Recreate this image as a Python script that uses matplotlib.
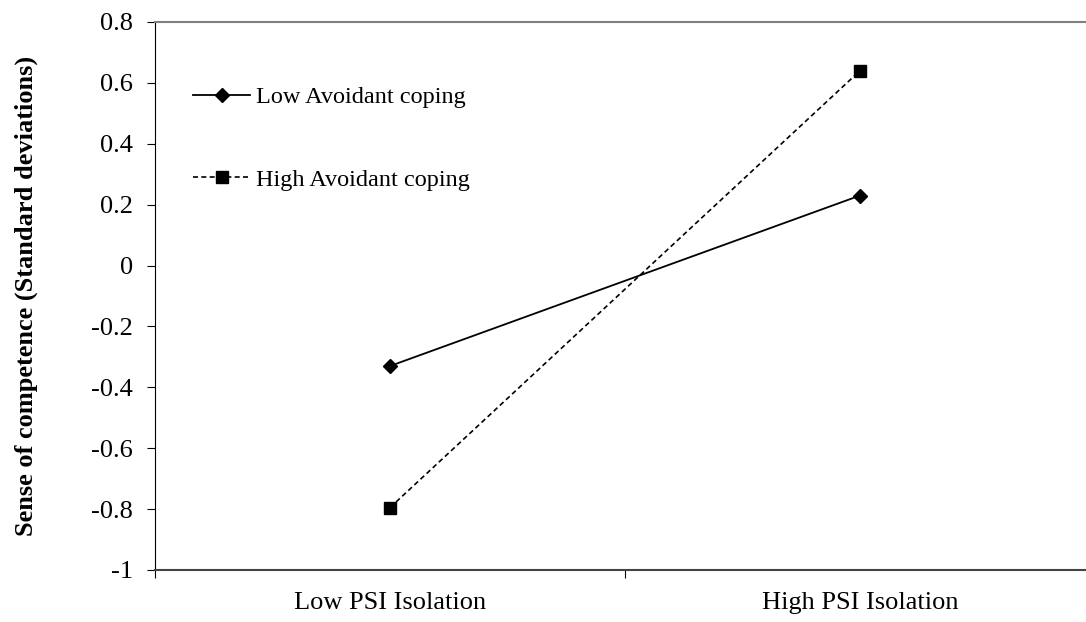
import numpy as np
import matplotlib.pyplot as plt

plt.rcParams['font.family'] = ['Liberation Serif', 'DejaVu Serif']

categories = ['Low PSI Isolation', 'High PSI Isolation']
low_avoidant = [-0.33, 0.23]
high_avoidant = [-0.795, 0.64]
yticks = [-1, -0.8, -0.6, -0.4, -0.2, 0, 0.2, 0.4, 0.6, 0.8]
ytick_labels = ['-1', '-0.8', '-0.6', '-0.4', '-0.2', '0', '0.2', '0.4', '0.6', '0.8']

fig = plt.figure(figsize=(10.86, 6.22), dpi=100)
ax = fig.add_axes([155 / 1086, 1 - 570 / 622, 940 / 1086, 548 / 622])

xpos = np.arange(len(categories)) + 0.5
ax.plot(xpos, low_avoidant, color='black', lw=1.3, marker='D', ms=7,
        label='Low Avoidant coping')
ax.plot(xpos, high_avoidant, color='black', lw=1.2, ls=(0, (3, 2)), marker='s', ms=9,
        label='High Avoidant coping')

ax.set_xlim(0, len(categories))
ax.set_ylim(-1, 0.8)
ax.set_yticks(yticks)
ax.set_yticklabels(ytick_labels, fontsize=19)
ax.set_xticks(np.arange(len(categories) + 1))
ax.set_xticklabels([])
ax.set_xticks(xpos, minor=True)
ax.set_xticklabels(categories, minor=True, fontsize=19)
ax.tick_params(axis='x', which='minor', length=0, pad=16)
ax.tick_params(axis='x', which='major', length=6, direction='out', color='black')
ax.tick_params(axis='y', length=6, direction='out', pad=10)

ax.spines['left'].set_color('black')
ax.spines['bottom'].set_color('#444444')
ax.spines['bottom'].set_linewidth(1.5)
ax.spines['top'].set_color('#808080')
ax.spines['top'].set_linewidth(1.5)
ax.spines['right'].set_color('#808080')

ax.set_ylabel('Sense of competence (Standard deviations)', fontsize=19,
              fontweight='bold', labelpad=38)

ax.legend(loc='upper left', bbox_to_anchor=(0.0404, 0.883), frameon=False,
          fontsize=17.5, handlelength=2.35, handletextpad=0.25, labelspacing=2.5,
          borderpad=0, borderaxespad=0)

fig.savefig('out.png', dpi=100)
